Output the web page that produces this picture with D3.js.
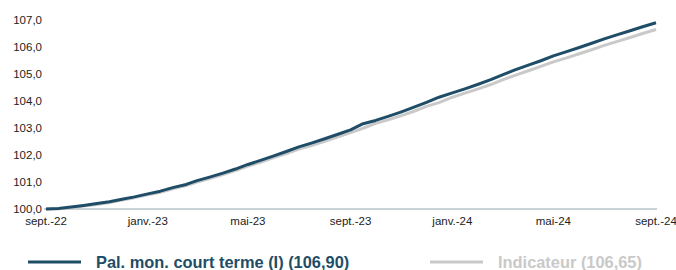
<!DOCTYPE html>
<html>
<head>
<meta charset="utf-8">
<script src="https://cdn.jsdelivr.net/npm/d3@7"></script>
<style>
  body { margin: 0; background: #fff; }
  svg { display: block; font-family: "Liberation Sans", Arial, sans-serif; }
</style>
</head>
<body>
<svg id="chart" width="676" height="270"></svg>
<script>
// semi-monthly observations, sept. 2022 -> sept. 2024
const dates = [
  "2022-09-01","2022-09-16","2022-10-01","2022-10-16","2022-11-01","2022-11-16","2022-12-01","2022-12-16",
  "2023-01-01","2023-01-16","2023-02-01","2023-02-16","2023-03-01","2023-03-16","2023-04-01","2023-04-16",
  "2023-05-01","2023-05-16","2023-06-01","2023-06-16","2023-07-01","2023-07-16","2023-08-01","2023-08-16",
  "2023-09-01","2023-09-16","2023-10-01","2023-10-16","2023-11-01","2023-11-16","2023-12-01","2023-12-16",
  "2024-01-01","2024-01-16","2024-02-01","2024-02-16","2024-03-01","2024-03-16","2024-04-01","2024-04-16",
  "2024-05-01","2024-05-16","2024-06-01","2024-06-16","2024-07-01","2024-07-16","2024-08-01","2024-08-16",
  "2024-09-01"
];
const palMon = [
  100.00,100.02,100.07,100.13,100.20,100.27,100.36,100.45,
  100.56,100.66,100.80,100.91,101.05,101.18,101.33,101.48,
  101.65,101.80,101.97,102.13,102.30,102.44,102.60,102.76,
  102.93,103.16,103.28,103.43,103.60,103.77,103.95,104.14,
  104.30,104.45,104.62,104.79,104.97,105.15,105.33,105.49,
  105.67,105.82,105.98,106.14,106.30,106.45,106.60,106.75,
  106.90
];
const indicateur = [
  100.00,100.01,100.05,100.11,100.17,100.24,100.33,100.42,
  100.53,100.62,100.76,100.87,101.00,101.13,101.28,101.42,
  101.59,101.73,101.90,102.05,102.22,102.35,102.51,102.66,
  102.83,102.99,103.17,103.30,103.46,103.62,103.80,103.94,
  104.14,104.29,104.45,104.61,104.78,104.95,105.12,105.28,
  105.45,105.59,105.75,105.90,106.06,106.20,106.35,106.50,
  106.65
];
const yTicks = [100,101,102,103,104,105,106,107];
const xTickDates = ["2022-09-01","2023-01-01","2023-05-01","2023-09-01","2024-01-01","2024-05-01","2024-09-01"];
const xTickLabels = ["sept.-22","janv.-23","mai-23","sept.-23","janv.-24","mai-24","sept.-24"];
const seriesNames = ["Pal. mon. court terme (I) (106,90)","Indicateur (106,65)"];
const seriesColors = ["#1f4d67","#c9c9c9"];

const parse = d3.timeParse("%Y-%m-%d");
const svg = d3.select("#chart");

const x = d3.scaleTime().domain([parse(dates[0]), parse(dates[dates.length-1])]).range([46,656]);
const y = d3.scaleLinear().domain([100,107]).range([209,20]);

// y labels
svg.append("g").selectAll("text").data(yTicks).join("text")
  .attr("x",42).attr("y",d=>y(d)).attr("dy","0.35em")
  .attr("text-anchor","end").attr("font-size","11.5px").attr("fill","#222")
  .text(d=>d3.format(".1f")(d).replace(".",","));

// x labels
svg.append("g").selectAll("text").data(xTickDates).join("text")
  .attr("x",d=>x(parse(d))).attr("y",221).attr("dy","0.35em")
  .attr("text-anchor","middle").attr("font-size","11.5px").attr("fill","#222")
  .text((d,i)=>xTickLabels[i]);

// baseline
svg.append("line").attr("x1",44).attr("x2",657).attr("y1",y(100)).attr("y2",y(100))
  .attr("stroke","#c9d3d7").attr("stroke-width",2);

const line = d3.line().x((d,i)=>x(parse(dates[i]))).y(d=>y(d));

[indicateur, palMon].forEach((s,k)=>{
  svg.append("path").datum(s).attr("d",line)
    .attr("fill","none").attr("stroke",seriesColors[1-k]).attr("stroke-width",3)
    .attr("stroke-linejoin","round");
});

// legend
const legX = [28,430];
seriesNames.forEach((n,i)=>{
  svg.append("line").attr("x1",legX[i]).attr("x2",legX[i]+53).attr("y1",262).attr("y2",262)
    .attr("stroke",seriesColors[i]).attr("stroke-width",3);
  svg.append("text").attr("x",legX[i]+68).attr("y",262).attr("dy","0.35em")
    .attr("font-size","16.4px").attr("font-weight","bold")
    .attr("fill",i==0?"#1f4d67":"#c9c9c9").text(n);
});
</script>
</body>
</html>
